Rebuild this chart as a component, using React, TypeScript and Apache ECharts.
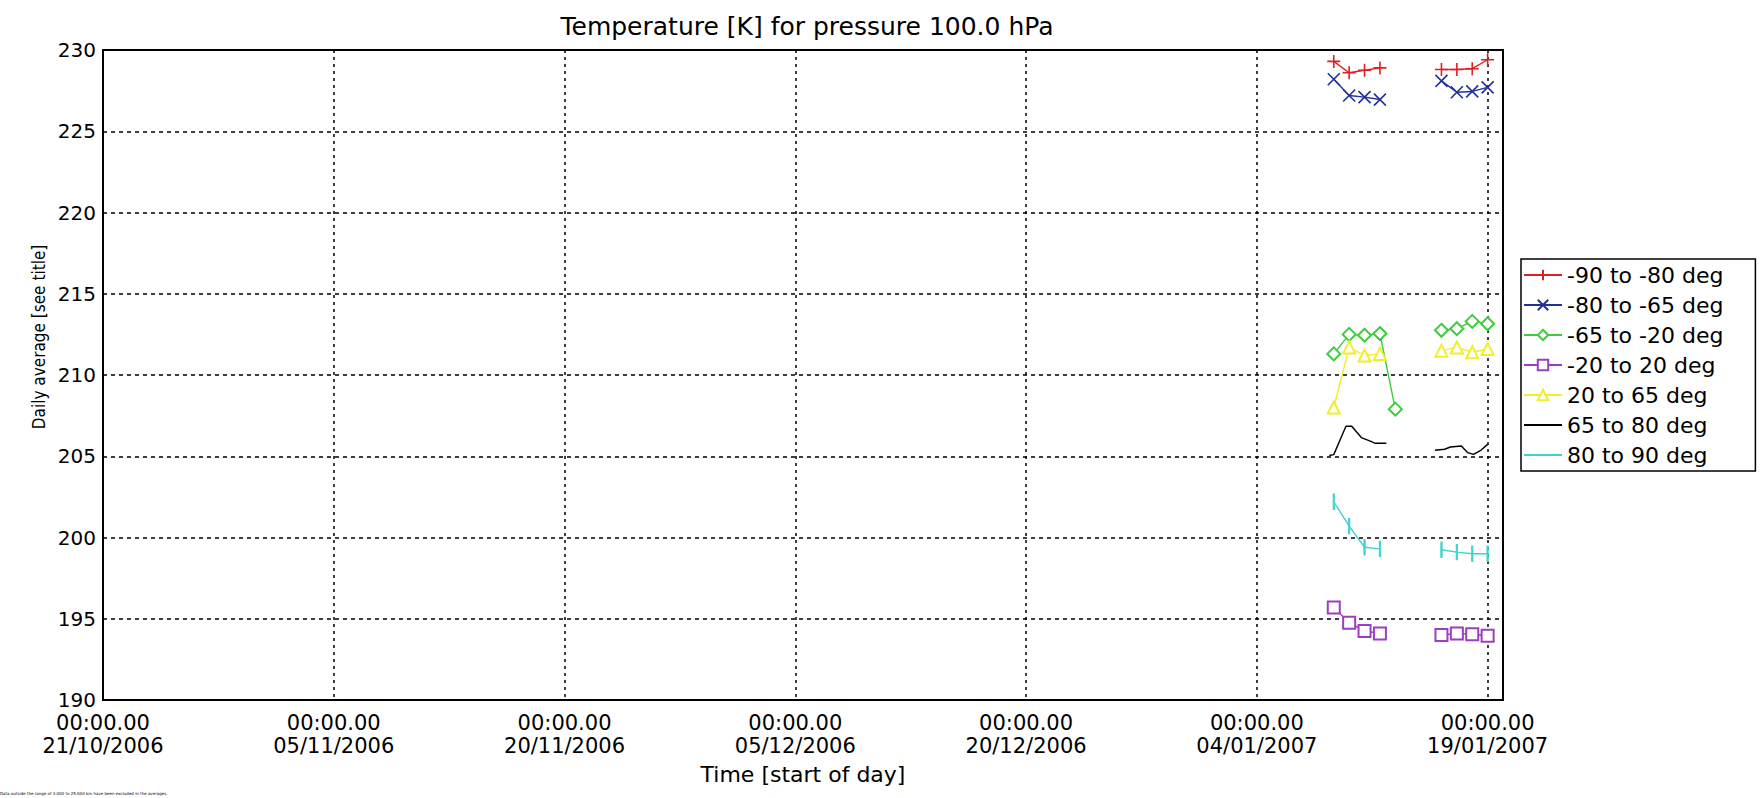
import React, { useEffect, useRef } from "react";
import * as echarts from "echarts";

// ---- Data ----
const START = "2006-10-21";
const xTickLabels = ["21/10/2006", "05/11/2006", "20/11/2006", "05/12/2006", "20/12/2006", "04/01/2007", "19/01/2007"];
const yMin = 190;
const yMax = 230;

const dates1 = ["2007-01-09", "2007-01-10", "2007-01-11", "2007-01-12"];
const dates2 = ["2007-01-16", "2007-01-17", "2007-01-18", "2007-01-19"];
const datesGreen1 = ["2007-01-09", "2007-01-10", "2007-01-11", "2007-01-12", "2007-01-13"];

const red1 = [229.3, 228.6, 228.75, 228.9];
const red2 = [228.8, 228.8, 228.85, 229.4];
const blue1 = [228.2, 227.2, 227.1, 226.95];
const blue2 = [228.1, 227.4, 227.45, 227.7];
const green1 = [211.3, 212.5, 212.45, 212.55, 207.9];
const green2 = [212.75, 212.85, 213.3, 213.15];
const purple1 = [195.7, 194.75, 194.25, 194.1];
const purple2 = [194.0, 194.1, 194.05, 193.95];
const yellow1 = [208.0, 211.7, 211.2, 211.3];
const yellow2 = [211.5, 211.7, 211.4, 211.6];
const cyan1 = [202.2, 200.7, 199.4, 199.3];
const cyan2 = [199.25, 199.1, 199.0, 199.0];

const blackTimes1 = ["2007-01-08T17:00", "2007-01-09T00:00", "2007-01-09T19:00", "2007-01-10T04:00", "2007-01-10T19:00", "2007-01-11T11:00", "2007-01-11T16:00", "2007-01-12T10:00"];
const black1 = [205.05, 205.1, 206.85, 206.85, 206.15, 205.9, 205.8, 205.8];
const blackTimes2 = ["2007-01-15T14:00", "2007-01-16T05:00", "2007-01-16T14:00", "2007-01-17T07:00", "2007-01-17T17:00", "2007-01-18T02:00", "2007-01-18T14:00", "2007-01-19T00:00"];
const black2 = [205.37, 205.43, 205.57, 205.63, 205.22, 205.12, 205.38, 205.73];

const seriesNames = ["-90 to -80 deg", "-80 to -65 deg", "-65 to -20 deg", "-20 to 20 deg", "20 to 65 deg", "65 to 80 deg", "80 to 90 deg"];

const footnote = "Data outside the range of 3.000 to 25.000 km have been excluded in the averages.";

// ---- helpers ----
const DAY = 86400000;
const startMs = Date.parse(START + "T00:00:00Z");
const dayOf = (s: string) => (Date.parse((s.length > 10 ? s : s + "T00:00") + ":00Z") - startMs) / DAY;
const pairs = (d: string[], v: number[]) => d.map((s, i) => [dayOf(s), v[i]]);

const FONT = "DejaVu Sans";

export default function App() {
  const ref = useRef<HTMLDivElement>(null);
  useEffect(() => {
    document.body.style.margin = "0";
    if (!ref.current) return;
    const chart = echarts.init(ref.current, undefined, { renderer: "svg" });

    const mk = (name: string, data: number[][], color: string, symbol: string, size: any) => ({
      type: "line",
      name,
      data,
      symbol,
      symbolSize: size,
      showSymbol: symbol !== "none",
      lineStyle: { color, width: 1.4 },
      itemStyle: { color, borderColor: color, borderWidth: 1.6 },
      emphasis: { disabled: true },
    });

    const plus = "path://M0,5 L10,5 M5,0 L5,10";
    const cross = "path://M0,0 L10,10 M10,0 L0,10";

    const colors = ["#dd1f26", "#22309a", "#3ccc3c", "#9a3fc0", "#f2ee2a", "#000000", "#3fd3cf"];

    const series: any[] = [
      mk(seriesNames[0], pairs(dates1, red1), colors[0], plus, 13),
      mk(seriesNames[0], pairs(dates2, red2), colors[0], plus, 13),
      mk(seriesNames[1], pairs(dates1, blue1), colors[1], cross, 12),
      mk(seriesNames[1], pairs(dates2, blue2), colors[1], cross, 12),
      mk(seriesNames[2], pairs(datesGreen1, green1), colors[2], "emptyDiamond", 13),
      mk(seriesNames[2], pairs(dates2, green2), colors[2], "emptyDiamond", 13),
      mk(seriesNames[3], pairs(dates1, purple1), colors[3], "emptyRect", 12),
      mk(seriesNames[3], pairs(dates2, purple2), colors[3], "emptyRect", 12),
      mk(seriesNames[4], pairs(dates1, yellow1), colors[4], "emptyTriangle", 12),
      mk(seriesNames[4], pairs(dates2, yellow2), colors[4], "emptyTriangle", 12),
      mk(seriesNames[5], pairs(blackTimes1, black1), colors[5], "none", 0),
      mk(seriesNames[5], pairs(blackTimes2, black2), colors[5], "none", 0),
      mk(seriesNames[6], pairs(dates1, cyan1), colors[6], "rect", [1.6, 12]),
      mk(seriesNames[6], pairs(dates2, cyan2), colors[6], "rect", [1.6, 12]),
    ];

    const legendData: any[] = seriesNames.map((n, i) =>
      i >= 5 ? { name: n, itemStyle: { opacity: 0 } } : { name: n }
    );

    chart.setOption({
      animation: false,
      backgroundColor: "#fff",
      textStyle: { fontFamily: FONT, color: "#000" },
      title: {
        text: "Temperature [K] for pressure 100.0 hPa",
        left: 802,
        textAlign: "center",
        top: 9,
        textStyle: { fontFamily: FONT, fontSize: 25, fontWeight: "normal", color: "#000" },
      },
      grid: {
        left: 103,
        top: 50,
        right: 259,
        bottom: 98,
        show: true,
        borderColor: "#000",
        borderWidth: 2,
        backgroundColor: "transparent",
      },
      legend: {
        data: legendData,
        orient: "vertical",
        left: 1521,
        top: 259,
        itemWidth: 38,
        itemHeight: 13,
        itemGap: 8,
        padding: [5, 32, 5, 2],
        borderColor: "#000",
        borderWidth: 1.5,
        textStyle: { fontFamily: FONT, fontSize: 22, lineHeight: 22, color: "#000" },
        selectedMode: false,
      },
      xAxis: {
        type: "value",
        min: 0,
        max: 91,
        interval: 15,
        axisLine: { show: false },
        axisTick: { show: false },
        splitLine: { show: true, lineStyle: { color: "#000", width: 1.5, type: [3, 4] } },
        axisLabel: {
          margin: 11,
          fontFamily: FONT,
          fontSize: 21,
          lineHeight: 23,
          color: "#000",
          showMaxLabel: false,
          formatter: (v: number) => {
            if (v % 15 !== 0) return "";
            const t = xTickLabels[v / 15];
            return t ? "00:00.00\n" + t : "";
          },
        },
        name: "Time [start of day]",
        nameLocation: "middle",
        nameGap: 63,
        nameMoveOverlap: false,
        nameTextStyle: { fontFamily: FONT, fontSize: 22, color: "#000" },
      },
      yAxis: {
        type: "value",
        min: yMin,
        max: yMax,
        interval: 5,
        axisLine: { show: false },
        axisTick: { show: false },
        splitLine: { show: true, lineStyle: { color: "#000", width: 1.5, type: [4, 4] } },
        axisLabel: { margin: 7, fontFamily: FONT, fontSize: 20, color: "#000" },
      },
      graphic: [
        {
          type: "text",
          x: 39,
          y: 337,
          rotation: Math.PI / 2,
          style: {
            text: "Daily average [see title]",
            fontFamily: "'DejaVu Sans Condensed', 'DejaVu Sans'",
            fontSize: 17,
            fill: "#000",
            textAlign: "center",
            textVerticalAlign: "middle",
          },
        },
        {
          type: "text",
          left: 0,
          top: 791,
          style: { text: footnote, fontFamily: FONT, fontSize: 4, fill: "#000" },
        },
      ],
      series,
    });
    return () => chart.dispose();
  }, []);
  return <div ref={ref} style={{ width: 1762, height: 798 }} />;
}
